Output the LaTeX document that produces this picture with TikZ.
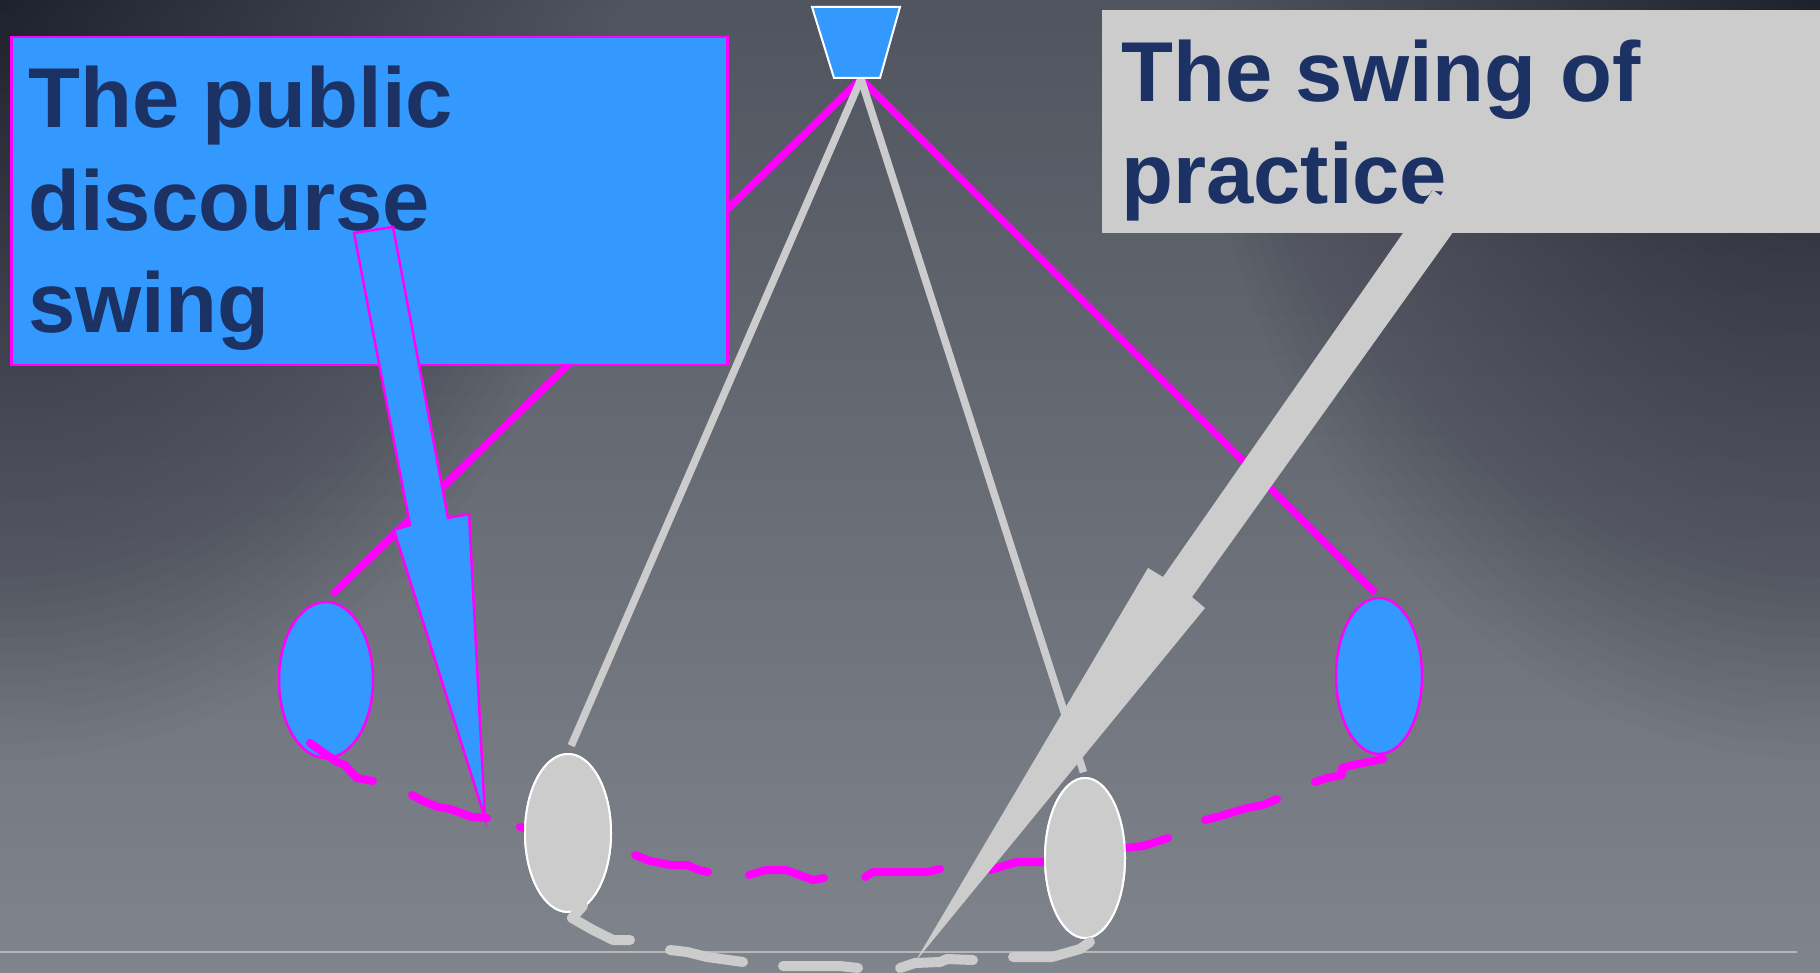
\documentclass[tikz,border=0pt]{standalone}
\usepackage{fontspec}
\setmainfont{Liberation Sans}
\usetikzlibrary{shapes.geometric}

\definecolor{bluefill}{HTML}{3399FF}
\definecolor{mag}{HTML}{FF00FF}
\definecolor{pale}{HTML}{CCCCCC}
\definecolor{navy}{HTML}{1C3264}
\definecolor{bgtop}{HTML}{50545E}
\definecolor{bgbot}{HTML}{80848C}
\definecolor{bgshadow}{HTML}{00000F}
\definecolor{rule}{HTML}{B8B8B8}

\tikzset{
  bob/.style={ellipse, inner sep=0pt},
  bluebob/.style={bob, fill=bluefill, draw=mag, line width=2.5pt},
  palebob/.style={bob, fill=pale, draw=white, line width=2pt},
  magrod/.style={draw=mag, line width=7.5pt},
  palerod/.style={draw=pale, line width=7.5pt},
  magtrail/.style={draw=mag, line width=8pt, line cap=round, line join=round},
  paletrail/.style={draw=pale, line width=10pt, line cap=round, line join=round},
  bluebox/.style={rectangle, inner sep=0pt, anchor=north west, fill=bluefill, draw=mag, line width=2.5pt},
  palebox/.style={rectangle, inner sep=0pt, anchor=north west, fill=pale},
  caption/.style={anchor=base west, inner sep=0pt, align=left, text=navy,
    font=\fontsize{85}{102.5}\selectfont\bfseries},
  vignette/.style={fill=bgshadow, opacity=0.010},
}

\begin{document}
\begin{tikzpicture}[x=1pt, y=-1pt]
\useasboundingbox (0,0) rectangle (1820,973);

% backdrop: vertical gradient, shaded towards the two upper corners
\shade[top color=bgtop, bottom color=bgbot] (0,0) rectangle (1820,973);
\begin{scope}
  \clip (0,0) rectangle (1820,973);
  \foreach \r in {0.02,0.04,...,1.0} {
    \fill[vignette] (0,0) ellipse ({620*\r} and {760*\r});
    \fill[vignette] (1820,0) ellipse ({620*\r} and {760*\r});
  }
\end{scope}

% floor rule
\coordinate (ruleL) at (0,952);
\coordinate (ruleR) at (1797,952);
\draw[rule, line width=2pt] (ruleL) -- (ruleR);

% blue bobs
\node[bluebob, minimum width=94pt, minimum height=156pt] (lblue) at (326,680) {};
\node[bluebob, minimum width=86pt, minimum height=156pt] (rblue) at (1379,676) {};

% pivot and rods
\coordinate (pivot) at (861,79);
\draw[magrod, shorten >=9pt] (pivot) -- (lblue.north);
\draw[magrod, shorten >=5pt] (pivot) -- (rblue.north);

\coordinate (lgraypos) at (568,833);
\coordinate (rgraypos) at (1085,858);
\path (lgraypos) node[palebob, minimum width=86pt, minimum height=158pt] (lgray) {};
\path (rgraypos) node[palebob, minimum width=80pt, minimum height=160pt] (rgray) {};

\draw[palerod, shorten >=8pt] (pivot) -- (lgray.north);
\draw[palerod, shorten >=5pt] (pivot) -- (rgray.north);

% hanger
\filldraw[fill=bluefill, draw=white, line width=2pt]
  (812,7) -- (900,7) -- (880,78) -- (834,78) -- cycle;

% magenta trail of the blue bobs
\draw[magtrail] (310,743) -- (327,755) -- (337,762) -- (345,765) -- (352,773) -- (357,778) -- (373,781);
\draw[magtrail] (412,795) -- (423,801) -- (438,807) -- (450,809) -- (472,817) -- (487,818);
\draw[magtrail] (520,827) -- (545,832);
\draw[magtrail] (635,855) -- (650,861) -- (671,865) -- (687,865) -- (699,870) -- (708,872);
\draw[magtrail] (749,875) -- (766,870) -- (786,870) -- (813,880) -- (824,878);
\draw[magtrail] (865,877) -- (873,872) -- (927,872) -- (940,869);
\draw[magtrail] (990,870) -- (1017,862) -- (1048,862) -- (1085,856) -- (1124,848) -- (1143,846) -- (1153,843) -- (1168,838);
\draw[magtrail] (1205,820) -- (1217,817) -- (1230,813) -- (1247,808) -- (1263,805) -- (1277,799);
\draw[magtrail] (1315,782) -- (1327,778) -- (1342,775) -- (1342,768) -- (1353,765) -- (1383,759);

% grey bobs drawn over the trail
\path (lgraypos) node[palebob, minimum width=86pt, minimum height=158pt] {};
\path (rgraypos) node[palebob, minimum width=80pt, minimum height=160pt] {};

% grey trail of the grey bobs
\draw[paletrail] (583,906) -- (572,918) -- (593,930) -- (613,940) -- (630,940);
\draw[paletrail] (670,950) -- (687,952) -- (707,957) -- (743,962);
\draw[paletrail] (783,966) -- (840,966) -- (858,968);
\draw[paletrail] (900,968) -- (915,963) -- (940,962) -- (947,959) -- (973,960);
\draw[paletrail] (1013,957) -- (1052,957) -- (1080,949) -- (1090,942);

% left caption box with its pointer
\node[bluebox, minimum width=716pt, minimum height=328pt] (lbox) at (10,36) {};
\node[caption] (ltext) at (28,333) {The public\\discourse\\swing};
\filldraw[fill=bluefill, draw=mag, line width=2.5pt, line join=miter]
  (354,233) -- (393,227) -- (448,518) -- (469,514) -- (485,818) -- (394,530) -- (410,525) -- cycle;

% right caption box with its pointer
\node[palebox, minimum width=730pt, minimum height=223pt] (rbox) at (1102,10) {};
\node[caption] (rtext) at (1121,204) {The swing of\\practice};
\fill[pale]
  (1433,190) -- (1466,214) -- (1192,597) -- (1205,608) -- (915,962) -- (1148,568) -- (1163,577) -- cycle;

\end{tikzpicture}
\end{document}
